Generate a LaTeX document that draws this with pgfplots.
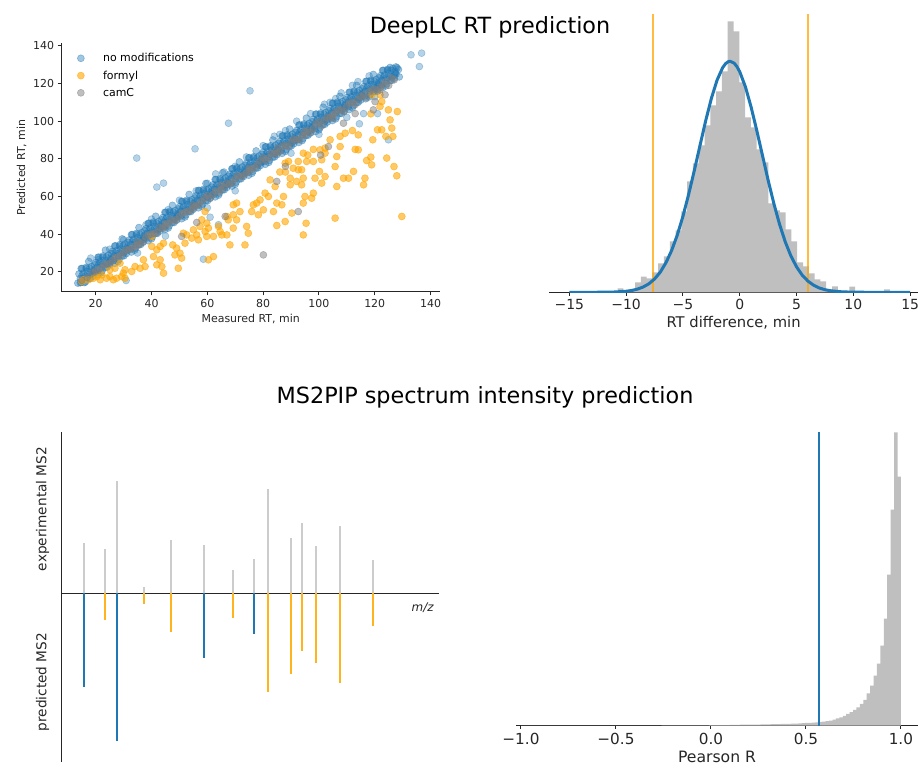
\documentclass[border=0pt]{standalone}
\usepackage{fontspec}
\setmainfont{DejaVu Sans}
\usepackage{pgfplots}
\pgfplotsset{compat=1.18}
\definecolor{mplblue}{HTML}{1F77B4}
\definecolor{mplorange}{HTML}{FFA500}
\definecolor{histgray}{HTML}{BFBFBF}
\definecolor{spikegray}{HTML}{CCCCCC}
\definecolor{spikeorange}{HTML}{FFB41E}
\definecolor{axcol}{HTML}{262626}
\begin{document}
\begin{tikzpicture}[x=1bp,y=1bp]
\pgfplotsset{
  every axis/.append style={scale only axis,
    /pgf/number format/assume math mode=true,
    axis line style={axcol, line width=1bp},
    tick style={axcol, line width=1bp},
    major tick length=3.5bp, tick align=outside},
  bluemark/.style={only marks, mark=*, mark size=3.5bp, mark options={draw=mplblue, fill=mplblue, opacity=#1, line width=0.6bp}},
  orangemark/.style={only marks, mark=*, mark size=3.5bp, mark options={draw=mplorange, fill=mplorange, opacity=0.6, line width=0.6bp}},
  graymark/.style={only marks, mark=*, mark size=3.5bp, mark options={draw=gray, fill=gray, opacity=0.5, line width=0.6bp}},
}
% ---------------- Panel 1: scatter ----------------
\begin{axis}[at={(61.1bp,477bp)}, anchor=south west, width=379.2bp, height=249bp,
  xmin=7.6, xmax=143.5, ymin=9.3, ymax=141.5,
  axis x line*=bottom, axis y line*=left,
  xtick={20,40,...,140}, ytick={20,40,...,140},
  ticklabel style={font=\fontsize{11}{13}\selectfont, text=axcol},
  xlabel={Measured RT, min}, ylabel={Predicted RT, min},
  label style={font=\fontsize{11}{13}\selectfont, text=axcol},
  legend style={at={(0.03,0.975)}, anchor=north west, draw=none, fill=none,
     font=\fontsize{11}{13}\selectfont, row sep=3.5bp},
  legend cell align=left,
  legend image code/.code={\draw[#1] plot coordinates {(0bp,0bp)}; \path (-5bp,0bp) (20bp,0bp);},
]
\addplot[bluemark=0.42] coordinates {
(14,18.9)(14.5,16.4)(13.6,14.0)(14.8,14.5)
(15.5,19.3)(16,16.7)(15.1,21.8)(16.3,14.6)
(17,20.1)(17.5,16.4)(16.6,22.4)(17.8,18.8)
(18.5,22.8)(19,19.1)(18.1,16.5)(19.3,21.2)
(20,24.9)(20.5,22.4)(19.6,20)(20.8,18.5)
(21.5,25.3)(22,22.7)(21.1,27.8)(22.3,20.6)
(23,26.1)(23.5,22.4)(22.6,28.4)(23.8,24.8)
(24.5,28.8)(25,25.1)(24.1,22.5)(25.3,27.2)
(26,30.9)(26.5,28.4)(25.6,26)(26.8,24.5)
(27.5,31.3)(28,28.7)(27.1,33.8)(28.3,26.6)
(29,32.1)(29.5,28.4)(28.6,34.4)(29.8,30.8)
(30.5,34.8)(31,31.1)(30.1,28.5)(31.3,33.2)
(32,36.9)(32.5,34.4)(31.6,32)(32.8,30.5)
(33.5,37.3)(34,34.7)(33.1,39.8)(34.3,32.6)
(35,38.1)(35.5,34.4)(34.6,40.4)(35.8,36.8)
(36.5,40.8)(37,37.1)(36.1,34.5)(37.3,39.2)
(38,42.9)(38.5,40.4)(37.6,38)(38.8,36.5)
(39.5,43.3)(40,40.7)(39.1,45.8)(40.3,38.6)
(41,44.1)(41.5,40.4)(40.6,46.4)(41.8,42.8)
(42.5,46.7)(43,43)(42.1,40.4)(43.3,45.1)
(44,48.8)(44.5,46.3)(43.6,43.9)(44.8,42.4)
(45.5,49.1)(46,46.5)(45.1,51.6)(46.3,44.4)
(47,49.9)(47.5,46.2)(46.6,52.2)(47.8,48.6)
(48.5,52.5)(49,48.8)(48.1,46.2)(49.3,50.9)
(50,54.6)(50.5,52.1)(49.6,49.7)(50.8,48.2)
(51.5,54.9)(52,52.3)(51.1,57.4)(52.3,50.2)
(53,55.7)(53.5,52)(52.6,58)(53.8,54.4)
(54.5,58.3)(55,54.6)(54.1,52)(55.3,56.7)
(56,60.4)(56.5,57.9)(55.6,55.5)(56.8,54)
(57.5,60.7)(58,58.1)(57.1,63.2)(58.3,56)
(59,61.5)(59.5,57.8)(58.6,63.8)(59.8,60.2)
(60.5,64.1)(61,60.4)(60.1,57.8)(61.3,62.5)
(62,66.2)(62.5,63.7)(61.6,61.3)(62.8,59.8)
(63.5,66.5)(64,63.9)(63.1,69)(64.3,61.8)
(65,67.2)(65.5,63.5)(64.6,69.5)(65.8,65.9)
(66.5,69.9)(67,66.2)(66.1,63.6)(67.3,68.3)
(68,71.9)(68.5,69.4)(67.6,67)(68.8,65.5)
(69.5,72.3)(70,69.7)(69.1,74.8)(70.3,67.6)
(71,73)(71.5,69.3)(70.6,75.3)(71.8,71.7)
(72.5,75.7)(73,72)(72.1,69.4)(73.3,74.1)
(74,77.7)(74.5,75.2)(73.6,72.8)(74.8,71.3)
(75.5,78.1)(76,75.5)(75.1,80.6)(76.3,73.4)
(77,78.8)(77.5,75.1)(76.6,81.1)(77.8,77.5)
(78.5,81.5)(79,77.8)(78.1,75.2)(79.3,79.9)
(80,83.5)(80.5,81)(79.6,78.6)(80.8,77.1)
(81.5,83.9)(82,81.3)(81.1,86.4)(82.3,79.2)
(83,84.6)(83.5,80.9)(82.6,86.9)(83.8,83.3)
(84.5,87.3)(85,83.6)(84.1,81)(85.3,85.7)
(86,89.3)(86.5,86.8)(85.6,84.4)(86.8,82.9)
(87.5,89.7)(88,87.1)(87.1,92.2)(88.3,85)
(89,90.4)(89.5,86.7)(88.6,92.7)(89.8,89.1)
(90.5,93.1)(91,89.4)(90.1,86.8)(91.3,91.5)
(92,95.1)(92.5,92.6)(91.6,90.2)(92.8,88.7)
(93.5,95.5)(94,92.9)(93.1,98)(94.3,90.8)
(95,96.2)(95.5,92.5)(94.6,98.5)(95.8,94.9)
(96.5,98.8)(97,95.1)(96.1,92.5)(97.3,97.2)
(98,100.9)(98.5,98.4)(97.6,96)(98.8,94.5)
(99.5,101.2)(100,98.6)(99.1,103.7)(100.3,96.5)
(101,102)(101.5,98.3)(100.6,104.3)(101.8,100.7)
(102.5,104.6)(103,100.9)(102.1,98.3)(103.3,103)
(104,106.7)(104.5,104.2)(103.6,101.8)(104.8,100.3)
(105.5,107)(106,104.4)(105.1,109.5)(106.3,102.3)
(107,107.8)(107.5,104.1)(106.6,110.1)(107.8,106.5)
(108.5,110.4)(109,106.7)(108.1,104.1)(109.3,108.8)
(110,112.5)(110.5,110)(109.6,107.6)(110.8,106.1)
(111.5,112.9)(112,110.3)(111.1,115.4)(112.3,108.2)
(113,113.6)(113.5,109.9)(112.6,115.9)(113.8,112.3)
(114.5,116.3)(115,112.6)(114.1,110)(115.3,114.7)
(116,118.3)(116.5,115.8)(115.6,113.4)(116.8,111.9)
(117.5,118.7)(118,116.1)(117.1,121.2)(118.3,114)
(119,119.4)(119.5,115.7)(118.6,121.7)(119.8,118.1)
(120.5,122.1)(121,118.4)(120.1,115.8)(121.3,120.5)
(122,124.1)(122.5,121.6)(121.6,119.2)(122.8,117.7)
(123.5,124.5)(124,121.9)(123.1,127)(124.3,119.8)
(125,125.2)(125.5,121.5)(124.6,127.5)(125.8,123.9)
(126.5,127.9)(127,124.2)(126.1,121.6)(127.3,126.3)
(128,128.3)(128.5,127.4)(127.6,125)(128.8,123.5)
(14.8,21.7)(15.1,18)(14.5,14.2)
(16.3,17.9)(16.6,21.7)(15.9,14.3)
(17.8,21.8)(18.1,18.2)(17.5,25.5)
(19.3,20.4)(19.6,23.7)(19,17.7)
(20.8,27.7)(21.1,24)(20.5,20)
(22.3,23.9)(22.6,27.7)(22,19.5)
(23.8,27.8)(24.1,24.2)(23.5,31.5)
(25.3,26.4)(25.6,29.7)(25,23.7)
(26.8,33.7)(27.1,30)(26.5,26)
(28.3,29.9)(28.6,33.7)(28,25.5)
(29.8,33.8)(30.1,30.2)(29.5,37.5)
(31.3,32.4)(31.6,35.7)(31,29.7)
(32.8,39.7)(33.1,36)(32.5,32)
(34.3,35.9)(34.6,39.7)(34,31.5)
(35.8,39.8)(36.1,36.2)(35.5,43.5)
(37.3,38.4)(37.6,41.7)(37,35.7)
(38.8,45.7)(39.1,42)(38.5,38)
(40.3,41.9)(40.6,45.7)(40,37.5)
(41.8,45.8)(42.1,42.2)(41.5,49.5)
(43.3,44.3)(43.6,47.6)(43,41.6)
(44.8,51.6)(45.1,47.9)(44.5,43.9)
(46.3,47.7)(46.6,51.5)(46,43.3)
(47.8,51.6)(48.1,48)(47.5,55.3)
(49.3,50.1)(49.6,53.4)(49,47.4)
(50.8,57.4)(51.1,53.7)(50.5,49.7)
(52.3,53.5)(52.6,57.3)(52,49.1)
(53.8,57.4)(54.1,53.8)(53.5,61.1)
(55.3,55.9)(55.6,59.2)(55,53.2)
(56.8,63.2)(57.1,59.5)(56.5,55.5)
(58.3,59.3)(58.6,63.1)(58,54.9)
(59.8,63.2)(60.1,59.6)(59.5,66.9)
(61.3,61.7)(61.6,65)(61,59)
(62.8,69)(63.1,65.3)(62.5,61.3)
(64.3,65.1)(64.6,68.9)(64,60.7)
(65.8,68.9)(66.1,65.3)(65.5,72.6)
(67.3,67.5)(67.6,70.8)(67,64.8)
(68.8,74.7)(69.1,71)(68.5,67)
(70.3,70.9)(70.6,74.7)(70,66.5)
(71.8,74.7)(72.1,71.1)(71.5,78.4)
(73.3,73.3)(73.6,76.6)(73,70.6)
(74.8,80.5)(75.1,76.8)(74.5,72.8)
(76.3,76.7)(76.6,80.5)(76,72.3)
(77.8,80.5)(78.1,76.9)(77.5,84.2)
(79.3,79.1)(79.6,82.4)(79,76.4)
(80.8,86.3)(81.1,82.6)(80.5,78.6)
(82.3,82.5)(82.6,86.3)(82,78.1)
(83.8,86.3)(84.1,82.7)(83.5,90)
(85.3,84.9)(85.6,88.2)(85,82.2)
(86.8,92.1)(87.1,88.4)(86.5,84.4)
(88.3,88.3)(88.6,92.1)(88,83.9)
(89.8,92.1)(90.1,88.5)(89.5,95.8)
(91.3,90.7)(91.6,94)(91,88)
(92.8,97.9)(93.1,94.2)(92.5,90.2)
(94.3,94.1)(94.6,97.9)(94,89.7)
(95.8,97.9)(96.1,94.3)(95.5,101.6)
(97.3,96.4)(97.6,99.7)(97,93.7)
(98.8,103.7)(99.1,100)(98.5,96)
(100.3,99.8)(100.6,103.6)(100,95.4)
(101.8,103.7)(102.1,100.1)(101.5,107.4)
(103.3,102.2)(103.6,105.5)(103,99.5)
(104.8,109.5)(105.1,105.8)(104.5,101.8)
(106.3,105.6)(106.6,109.4)(106,101.2)
(107.8,109.5)(108.1,105.9)(107.5,113.2)
(109.3,108)(109.6,111.3)(109,105.3)
(110.8,115.3)(111.1,111.6)(110.5,107.6)
(112.3,111.5)(112.6,115.3)(112,107.1)
(113.8,115.3)(114.1,111.7)(113.5,119)
(115.3,113.9)(115.6,117.2)(115,111.2)
(116.8,121.1)(117.1,117.4)(116.5,113.4)
(118.3,117.3)(118.6,121.1)(118,112.9)
(119.8,121.1)(120.1,117.5)(119.5,124.8)
(121.3,119.7)(121.6,123)(121,117)
(122.8,126.9)(123.1,123.2)(122.5,119.2)
(124.3,123.1)(124.6,126.9)(124,118.7)
(125.8,126.9)(126.1,123.3)(125.5,128.5)
(127.3,125.5)(127.6,128.8)(127,122.8)
};
\addlegendentry{no modifications}
\addplot[bluemark=0.33, forget plot] coordinates {
(34.7,80.4)(41.9,65)(44.3,67.1)(55.6,85.3)(75.3,116.1)(67.6,98.9)(58.6,26.7)
(64,45)(61,49)(18.2,27.3)(20.9,26.4)(30.9,15.4)(114.5,98.6)(124.9,90.1)
(133,135.2)(136.8,136.1)(136,129)(97,104)(106,112)(112,119)(70,76)(50,58)
(40,48)(30,37)(88,95)(118,124)(104,110)(25,32)(60,67)(80,87)(63,72)(46,53)
(70,63)(90,83)(100,93)(110,102)(120,113)(121,104)(116,104)(60,54)(45,39)(35,30)
(84,92)(92,100)(102,109)(108,115)(56,63)(74,81)(38,45)(66,73)(86,93)(114,121)
};
\addplot[orangemark] coordinates {
(129.7,49.4)(128.1,105.1)(124.9,106)(121.9,107.8)(122.5,110.4)(125.5,100.7)(126.1,96.3)
(126.5,91.9)(124,91.9)(126.9,75.9)(127.9,71)(124.3,80.4)(122.5,95.4)(121,95.4)
(119.3,90.1)(118.6,80.9)(117.1,79.1)(118.9,76.8)(116,66.2)(116.5,69.7)(114.1,92.7)
(114.1,84.8)(112.4,73.3)(110.6,69.7)(108.8,69.7)(107.6,86.5)(106.4,81.2)(105.8,75.9)
(106.4,65.3)(105.8,48.5)(104,90.1)(102.2,85.7)(101,79.5)(100.2,73.3)(102.2,70.6)
(101,67.1)(98,78.6)(98,61.8)(97.4,59.1)(98.6,69.7)(94.4,83)(95.6,78.6)(93.8,74.2)
(94.4,69.7)(93.8,66.2)(95,60)(94.4,56.5)(95.4,45.8)(94.4,39.6)(92.6,74.2)(92,68)
(89.7,69.7)(90.8,75)(89.1,78.6)(87.9,77.7)(89.7,66.2)(87.3,60)(86.7,55.6)(90.3,51.2)
(87.9,46.7)(84.9,44.6)(84.3,65.3)(82.5,68.8)(81.9,60)(80.7,61.8)(78.9,58.2)(80.1,52.9)
(77.7,56.5)(76.5,55.6)(75.9,52)(78.3,50.3)(83.7,52)(84.9,56.5)(74.1,44.1)(74.7,40.5)
(73.5,34.3)(70.5,56.5)(69.3,50.3)(70.5,47.6)(69.3,43.2)(67,49.4)(67,39.6)(68.1,34.3)
(65.2,39.6)(64.6,41.4)(64,44.1)(62.2,38.8)(59.8,45.8)(60.4,43.2)(59.2,41.4)(59.8,38.8)
(62.2,28.1)(60.4,26.4)(56.8,37)(56.2,39.6)(55,42.3)(52.6,39.6)(52,35.2)(54.4,37.9)
(51.4,40.5)(49,32.6)(48.4,29)(50.2,29.9)(50.8,27.3)(49.6,21.9)(47.6,34.3)(44.3,35.2)
(43.1,33.5)(41.9,31.7)(40.7,28.1)(41.9,23.7)(43.1,26.4)(43.7,22.8)(44.3,19.3)(40.1,33.5)
(37.1,26.4)(37.7,22.8)(35.9,21.9)(34.1,22.8)(32.9,20.2)(30.5,21.1)(29.9,19.3)(30.5,16.6)
(29.3,17.5)(27.5,16.6)(26.3,15.8)(25.1,17.5)(23.9,16.6)(21.6,15.8)(20.4,17.5)(19.2,16.6)
(17.4,15.8)(15.6,15.8)(15,14.9)(22.2,18.4)(25.1,21.1)(26.9,21.9)(28.7,24.6)(40.1,38.8)
(57.4,44.1)(58,47.6)(59.2,52)(69.3,55.6)(67.5,47.6)(71.7,52)(119,114)(121.9,114)
(109.4,93.6)(107.6,91.9)(100.4,84.8)(102.2,83)(92.6,78.6)(113,85)(112,95)(98,85)
(96,82)(86,73)(88,73)(118.6,103.9)
};
\addlegendentry{formyl}
\addplot[graymark] coordinates {
(15,15.5)(17,17)(19,19.5)(21,21)(23,23.8)(25,24.5)(27,27.5)(29,28.8)(31,31.5)(33,32.4)
(35,35.8)(37,36)(39,39.5)(41,40.4)(43,43.5)(45,44)(47,47.5)(49,47.8)(51,51)(53,52.2)
(55,55.5)(57,55.8)(59,59)(61,59.2)(63,63)(65,63.5)(67,67)(69,67.5)(71,71)(73,71.3)
(75,75)(77,75.4)(79,79)(81,79.2)(83,83)(85,83)(87,86.8)(89,86.5)(91,90.5)(93,90.2)
(95,94.5)(97,94)(99,98.5)(101,97.5)(103,102)(105,101.5)(107,105.8)(109,105)(111,109.5)
(113,108.8)(115,113)(117,112.5)(119,116.5)(121,116)(123,119.5)(125,119)(127,122)
(60,60.5)(70,69.5)(80,80.5)(90,89)(100,99.5)(110,108)(118,115.5)(122,118)(124,121)
(126,123)(35,34)(45,45.5)(55,54)(65,66)(75,73.5)(85,85.5)(95,92.5)(105,103.5)
(62,61)(64,62.5)(66,65)(68,66.5)(72,70.5)(74,72.5)(76,74.5)(78,77)(82,80.5)(84,82.5)
(86,84)(88,87)(92,90)(94,92.5)(96,95)(98,96)(102,100.5)(104,102)(106,104.5)(108,106)
(112,110)(114,111.5)(116,114)(120,117)(50,49.5)(52,51.5)(54,52.5)(56,55)(58,57.5)
(40,40)(42,41)(44,43)(46,45.5)(48,47)(30,30.5)(32,32)(34,33.5)(36,35)(38,38.5)
(20,20.5)(22,22)(24,24)(26,26)(28,28)
(80.1,29)(84.9,68)(66.4,49.4)(92.6,52)(50.8,38.8)(56.2,46.2)(103.4,86.5)(108.8,98.9)
(119.5,106)(120.1,110.4)(123.7,114)(121.9,116.6)(100.6,82)(113,104)(88,76)
};
\addlegendentry{camC}
\end{axis}
% ---------------- Panel 2: RT difference histogram ----------------
\begin{axis}[at={(549bp,476.7bp)}, anchor=south west, width=369.1bp, height=278.3bp,
  xmin=-16.79, xmax=15.7, ymin=0, ymax=278.3,
  axis x line*=bottom, axis y line=none, ytick=\empty,
  xtick={-15,-10,-5,0,5,10,15}, xticklabels={−15,−10,−5,0,5,10,15},
  ticklabel style={font=\fontsize{14}{16}\selectfont, text=axcol},
  xlabel={RT difference, min},
  label style={font=\fontsize{14.8}{17}\selectfont, text=axcol},
]
\addplot[const plot, fill=histgray, draw=none] coordinates {
(-10.75,4)(-10.24,1.5)(-9.73,2)(-9.22,10)(-8.71,15.7)(-8.20,14)(-7.69,20)(-7.18,29)
(-6.67,36)(-6.16,51)(-5.65,62)(-5.14,81)(-4.63,111)(-4.12,129)(-3.61,147)(-3.10,167)
(-2.59,187)(-2.08,201)(-1.57,221)(-1.06,271)(-0.55,261)(-0.04,210)(0.47,175)(0.98,165)
(1.49,143)(2.00,130)(2.51,89)(3.02,82)(3.53,80)(4.04,63)(4.55,51)(5.06,30)(5.57,26)
(6.08,19)(6.59,13)(7.10,11)(7.61,3)(8.12,6)(8.63,1.5)(9.14,1.5)(9.65,5.7)(10.16,1)
(10.67,0.7)(11.18,0.5)(11.69,0.5)(12.20,0.5)(12.71,3)(13.22,3)
} \closedcycle;
\addplot[mplorange, opacity=0.75, line width=2bp] coordinates {(-7.66,0)(-7.66,278.3)};
\addplot[mplorange, opacity=0.75, line width=2bp] coordinates {(6.04,0)(6.04,278.3)};
\addplot[mplblue, line width=3bp, line join=round] coordinates {
(-15,0)(-13,0)(-12,0.08)(-11,0.3)(-10,1.04)(-9.5,1.84)(-9,3.2)(-8.5,5.3)(-8,8.5)
(-7.5,13.3)(-7,20.1)(-6.5,29.5)(-6,41.7)(-5.5,57.2)(-5,76)(-4.5,97.9)(-4,121.8)
(-3.5,146.8)(-3,171.5)(-2.5,193.8)(-2,212.1)(-1.5,224.8)(-1.25,228.6)(-1,230.7)(-0.85,231)
(-0.5,229.2)(-0.25,225.7)(0,220.5)(0.5,205.4)(1,185.2)(1.5,161.7)(2,136.8)(2.5,112)(3,88.8)
(3.5,68.1)(4,50.6)(4.5,36.4)(5,25.4)(5.5,17.1)(6,11.2)(6.5,7.1)(7,4.3)(7.5,2.6)
(8,1.5)(9,0.44)(10,0.12)(11,0.03)(12,0)(15,0)
};
\end{axis}
% ---------------- Panel 3: mirrored spectrum ----------------
\begin{axis}[at={(61bp,7.3bp)}, anchor=south west, width=378.3bp, height=329.7bp,
  xmin=183, xmax=1318, ymin=-505, ymax=483,
  axis x line*=middle, axis y line*=left, xtick=\empty, ytick=\empty,
]
\addplot[ycomb, spikegray, line width=2bp, no markers] coordinates {
(251,150)(316,132)(350,335)(433,17)(513,158)(612,145)(700,69)(762,101)
(803,313)(872,164)(907,210)(948,142)(1021,202)(1118,98)
};
\addplot[ycomb, mplblue, line width=2bp, no markers] coordinates {
(251,-282)(350,-444)(612,-193)(762,-121)
};
\addplot[ycomb, spikeorange, line width=2bp, no markers] coordinates {
(316,-81)(433,-33)(513,-116)(700,-74)(803,-297)(872,-242)(907,-174)(948,-209)(1021,-270)(1118,-97)
};
\end{axis}
% ---------------- Panel 4: Pearson R histogram ----------------
\begin{axis}[at={(516bp,43.3bp)}, anchor=south west, width=402bp, height=293.4bp,
  xmin=-1.026, xmax=1.09, ymin=0, ymax=293.4,
  axis x line*=bottom, axis y line=none, ytick=\empty,
  xtick={-1,-0.5,0,0.5,1}, xticklabels={−1.0,−0.5,0.0,0.5,1.0},
  ticklabel style={font=\fontsize{15.3}{17}\selectfont, text=axcol},
  xlabel={Pearson R},
  label style={font=\fontsize{15.7}{18}\selectfont, text=axcol},
]
\addplot[const plot, fill=histgray, draw=none] coordinates {
(-1.0,0.03)(-0.8,0.06)(-0.6,0.1)(-0.44,0.15)(-0.26,0.25)(-0.08,0.4)(-0.008,0.5)
(0.046,0.65)(0.1,0.8)(0.154,0.95)(0.208,1.1)(0.262,1.3)(0.316,1.5)(0.37,1.7)(0.406,1.9)
(0.424,2.0)(0.442,2.15)(0.46,2.3)(0.478,2.5)(0.496,2.7)(0.514,2.9)(0.532,3.1)(0.55,3.3)
(0.568,3.7)(0.586,4.0)(0.604,4.6)(0.622,5.0)(0.64,6.0)(0.658,7.3)(0.676,8.3)(0.694,9.7)
(0.712,11.7)(0.73,13.5)(0.748,15.7)(0.766,18.3)(0.784,21.7)(0.802,25.7)(0.82,32.3)
(0.838,40)(0.856,50)(0.874,62)(0.892,80)(0.91,107)(0.928,151)(0.946,216)(0.964,293.3)
(0.982,249)(1.0,249)
} \closedcycle;
\addplot[mplblue, line width=2bp] coordinates {(0.567,0)(0.567,293.4)};
\end{axis}
% ---------------- titles and free labels ----------------
\node[anchor=base, font=\fontsize{22.4}{26}\selectfont, text=black] at (490,735.7) {DeepLC RT prediction};
\node[anchor=base, font=\fontsize{22.4}{26}\selectfont, text=black] at (485,365.7) {MS2PIP spectrum intensity prediction};
\node[rotate=90, font=\fontsize{13.7}{16}\selectfont, text=axcol] at (42.7,260) {experimental MS2};
\node[rotate=90, font=\fontsize{13.7}{16}\selectfont, text=axcol] at (42.7,87) {predicted MS2};
\node[font=\fontsize{12}{14}\selectfont\itshape, text=axcol] at (422.7,161) {m/z};
\pgfresetboundingbox
\path (0,0) rectangle (918,769);
\end{tikzpicture}
\end{document}
